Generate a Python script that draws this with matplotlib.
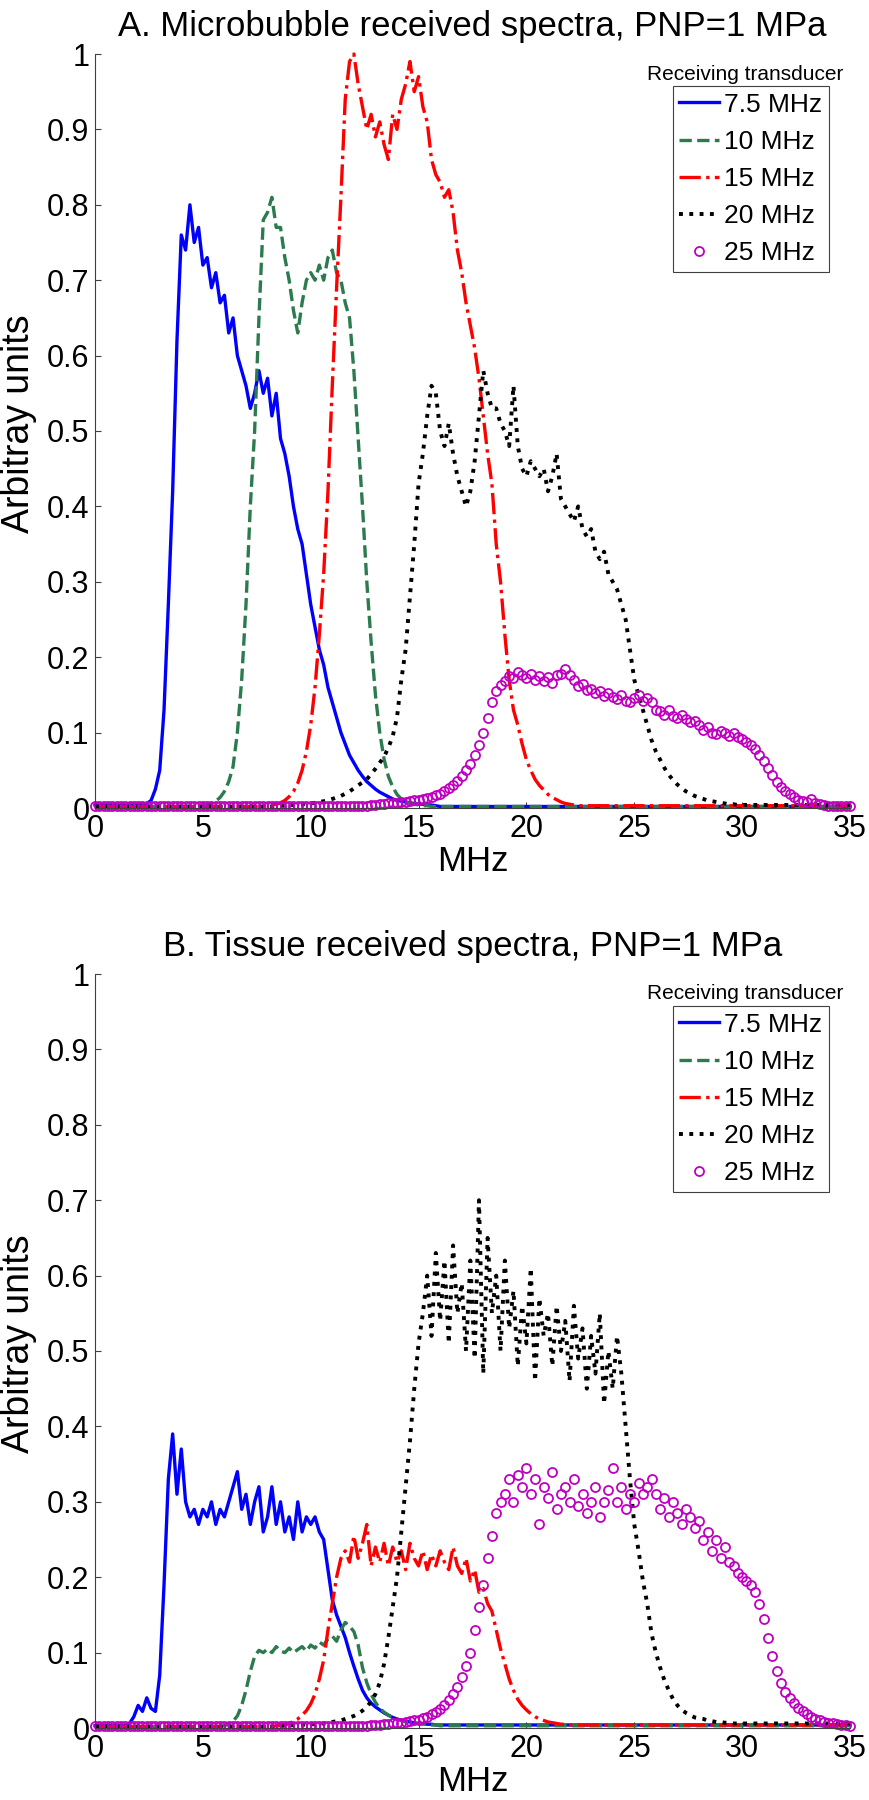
import numpy as np
import matplotlib
matplotlib.use('Agg')
import matplotlib.pyplot as plt

plt.rcParams['font.family'] = ['Liberation Sans', 'DejaVu Sans']

# frequency bins in MHz (0.2 MHz apart, 0 .. 35)
freq = np.round(np.arange(176) * 0.2, 1)

labels = ['7.5 MHz', '10 MHz', '15 MHz', '20 MHz', '25 MHz']

# ---- A. microbubble received spectra (one value per 0.2 MHz bin) ----
a_75 = ([0.004] * 10 +
        [0.004, 0.005, 0.006, 0.010, 0.025, 0.05, 0.13, 0.27, 0.42, 0.62] +
        [0.76, 0.74, 0.80, 0.75, 0.77, 0.72, 0.73, 0.69, 0.71, 0.67] +
        [0.68, 0.63, 0.65, 0.60, 0.58, 0.56, 0.53, 0.55, 0.58, 0.55] +
        [0.57, 0.52, 0.55, 0.49, 0.47, 0.44, 0.40, 0.37, 0.35, 0.31] +
        [0.27, 0.24, 0.21, 0.19, 0.16, 0.14, 0.12, 0.10, 0.085, 0.07] +
        [0.06, 0.05, 0.042, 0.035, 0.03, 0.025, 0.021, 0.018, 0.015, 0.012] +
        [0.010, 0.009, 0.008, 0.007, 0.006, 0.005, 0.005, 0.004, 0.004, 0.003] +
        [0.002] * 96)
a_10 = ([0.002] * 25 +
        [0.003, 0.004, 0.006, 0.009, 0.014] +
        [0.022, 0.035, 0.055, 0.10, 0.17, 0.27, 0.40, 0.50, 0.65, 0.78] +
        [0.79, 0.81, 0.77, 0.77, 0.73, 0.70, 0.66, 0.63, 0.67, 0.70] +
        [0.71, 0.70, 0.72, 0.70, 0.73, 0.74, 0.71, 0.70, 0.67, 0.65] +
        [0.58, 0.49, 0.40, 0.30, 0.22, 0.15, 0.10, 0.065, 0.042, 0.028] +
        [0.018, 0.012, 0.008, 0.006, 0.005, 0.004, 0.003, 0.003, 0.002, 0.002] +
        [0.002] * 96)
a_15 = ([0.002] * 40 +
        [0.003, 0.004, 0.005, 0.007, 0.010, 0.015, 0.022, 0.033, 0.05, 0.075] +
        [0.11, 0.16, 0.23, 0.31, 0.42, 0.56, 0.69, 0.81, 0.94, 0.99] +
        [1.0, 0.96, 0.93, 0.90, 0.92, 0.89, 0.91, 0.88, 0.86, 0.92] +
        [0.90, 0.94, 0.96, 0.99, 0.95, 0.97, 0.93, 0.91, 0.86, 0.84] +
        [0.83, 0.81, 0.82, 0.79, 0.74, 0.71, 0.67, 0.64, 0.61, 0.57] +
        [0.52, 0.47, 0.43, 0.35, 0.30, 0.23, 0.17, 0.13, 0.11, 0.085] +
        [0.064, 0.05, 0.038, 0.03, 0.024, 0.018, 0.014, 0.011, 0.008, 0.006] +
        [0.005, 0.004] + [0.003] * 64)
a_20 = ([0.002] * 40 +
        [0.002, 0.002, 0.003, 0.003, 0.003, 0.004, 0.004, 0.004, 0.005, 0.005] +
        [0.006, 0.007, 0.008, 0.009, 0.010, 0.012, 0.014, 0.016, 0.019, 0.022] +
        [0.026, 0.03, 0.034, 0.038, 0.045, 0.052, 0.06, 0.068, 0.08, 0.095] +
        [0.12, 0.17, 0.21, 0.28, 0.35, 0.43, 0.47, 0.52, 0.56, 0.55] +
        [0.50, 0.48, 0.51, 0.47, 0.44, 0.42, 0.40, 0.42, 0.46, 0.52] +
        [0.58, 0.55, 0.53, 0.53, 0.51, 0.50, 0.48, 0.56, 0.48, 0.45] +
        [0.44, 0.46, 0.45, 0.44, 0.45, 0.42, 0.44, 0.47, 0.41, 0.40] +
        [0.39, 0.38, 0.40, 0.37, 0.36, 0.37, 0.34, 0.33, 0.34, 0.31] +
        [0.30, 0.29, 0.27, 0.25, 0.21, 0.17, 0.15, 0.13, 0.11, 0.09] +
        [0.075, 0.064, 0.053, 0.044, 0.037, 0.031, 0.026, 0.022, 0.019, 0.016] +
        [0.014, 0.012, 0.010, 0.009, 0.008, 0.007, 0.006, 0.005, 0.005, 0.004] +
        [0.004] * 26)
a_25 = ([0.002] * 60 +
        [0.002, 0.003, 0.003, 0.003, 0.004, 0.004, 0.005, 0.005, 0.006, 0.006] +
        [0.007, 0.008, 0.008, 0.009, 0.010, 0.011, 0.012, 0.013, 0.015, 0.017] +
        [0.019, 0.022, 0.026, 0.03, 0.036, 0.042, 0.05, 0.059, 0.07, 0.083] +
        [0.10, 0.12, 0.14, 0.155, 0.163, 0.168, 0.175, 0.172, 0.18, 0.176] +
        [0.172, 0.178, 0.17, 0.175, 0.168, 0.174, 0.166, 0.176, 0.178, 0.184] +
        [0.176, 0.17, 0.162, 0.165, 0.156, 0.158, 0.152, 0.155, 0.148, 0.152] +
        [0.147, 0.145, 0.150, 0.142, 0.14, 0.146, 0.150, 0.142, 0.146, 0.14] +
        [0.13, 0.128, 0.124, 0.13, 0.122, 0.12, 0.124, 0.118, 0.114, 0.116] +
        [0.11, 0.104, 0.108, 0.10, 0.098, 0.102, 0.10, 0.096, 0.10, 0.094] +
        [0.092, 0.088, 0.084, 0.078, 0.07, 0.062, 0.053, 0.044, 0.035, 0.028] +
        [0.022, 0.018, 0.014, 0.011, 0.009, 0.008, 0.012, 0.006, 0.005, 0.004] +
        [0.003, 0.003, 0.002, 0.002, 0.002, 0.002])

# ---- B. tissue received spectra ----
b_75 = ([0.003] * 8 +
        [0.006, 0.015] +
        [0.03, 0.022, 0.04, 0.026, 0.022, 0.07, 0.19, 0.33, 0.39, 0.31] +
        [0.37, 0.30, 0.28, 0.29, 0.27, 0.29, 0.28, 0.30, 0.27, 0.29] +
        [0.28, 0.30, 0.32, 0.34, 0.29, 0.31, 0.27, 0.30, 0.32, 0.26] +
        [0.28, 0.32, 0.27, 0.30, 0.26, 0.28, 0.25, 0.30, 0.26, 0.28] +
        [0.27, 0.28, 0.26, 0.25, 0.21, 0.17, 0.15, 0.135, 0.12, 0.10] +
        [0.082, 0.065, 0.05, 0.04, 0.033, 0.028, 0.024, 0.02, 0.017, 0.014] +
        [0.012, 0.01, 0.009, 0.008, 0.007, 0.006, 0.006, 0.005, 0.005, 0.004] +
        [0.004] * 96)
b_10 = ([0.002] * 30 +
        [0.003, 0.005, 0.009, 0.016, 0.03, 0.05, 0.075, 0.095, 0.103, 0.10] +
        [0.105, 0.10, 0.108, 0.102, 0.10, 0.106, 0.10, 0.104, 0.108, 0.102] +
        [0.11, 0.106, 0.114, 0.11, 0.118, 0.122, 0.115, 0.13, 0.14, 0.135] +
        [0.128, 0.11, 0.08, 0.06, 0.045, 0.034, 0.026, 0.021, 0.017, 0.014] +
        [0.012, 0.01, 0.008, 0.007, 0.006, 0.006, 0.005, 0.005, 0.004, 0.004] +
        [0.003] * 96)
b_15 = ([0.002] * 40 +
        [0.002, 0.002, 0.003, 0.003, 0.004, 0.006, 0.009, 0.012, 0.017, 0.023] +
        [0.032, 0.045, 0.065, 0.09, 0.13, 0.165, 0.20, 0.225, 0.235, 0.22] +
        [0.255, 0.225, 0.245, 0.27, 0.215, 0.24, 0.22, 0.245, 0.215, 0.24] +
        [0.22, 0.235, 0.21, 0.245, 0.225, 0.215, 0.235, 0.21, 0.23, 0.215] +
        [0.235, 0.22, 0.21, 0.24, 0.215, 0.205, 0.225, 0.195, 0.21, 0.18] +
        [0.185, 0.165, 0.155, 0.13, 0.105, 0.085, 0.065, 0.05, 0.038, 0.03] +
        [0.024, 0.019, 0.015, 0.012, 0.01, 0.008, 0.007, 0.006, 0.005, 0.005] +
        [0.004] * 66)
b_20 = ([0.002] * 40 +
        [0.002, 0.002, 0.003, 0.003, 0.003, 0.003, 0.004, 0.004, 0.004, 0.005] +
        [0.005, 0.005, 0.006, 0.006, 0.007, 0.008, 0.009, 0.01, 0.012, 0.014] +
        [0.016, 0.019, 0.023, 0.028, 0.035, 0.045, 0.06, 0.085, 0.12, 0.16] +
        [0.20, 0.26, 0.32, 0.38, 0.45, 0.51, 0.55, 0.60, 0.52, 0.63] +
        [0.54, 0.62, 0.51, 0.64, 0.55, 0.59, 0.50, 0.62, 0.49, 0.70] +
        [0.47, 0.65, 0.55, 0.60, 0.50, 0.62, 0.53, 0.58, 0.48, 0.56] +
        [0.51, 0.61, 0.46, 0.57, 0.52, 0.55, 0.48, 0.56, 0.50, 0.54] +
        [0.46, 0.56, 0.49, 0.53, 0.45, 0.52, 0.47, 0.55, 0.43, 0.50] +
        [0.45, 0.52, 0.47, 0.40, 0.33, 0.27, 0.235, 0.195, 0.165, 0.125] +
        [0.10, 0.08, 0.063, 0.05, 0.038, 0.03, 0.024, 0.02, 0.017, 0.014] +
        [0.013, 0.012, 0.01, 0.009, 0.008, 0.008, 0.007, 0.007, 0.006, 0.006] +
        [0.006] * 26)
b_25 = ([0.002] * 60 +
        [0.002, 0.003, 0.003, 0.003, 0.004, 0.004, 0.004, 0.005, 0.005, 0.006] +
        [0.006, 0.007, 0.008, 0.009, 0.01, 0.011, 0.013, 0.015, 0.018, 0.021] +
        [0.025, 0.03, 0.037, 0.045, 0.055, 0.068, 0.082, 0.10, 0.13, 0.16] +
        [0.19, 0.225, 0.255, 0.285, 0.30, 0.31, 0.33, 0.30, 0.335, 0.32] +
        [0.345, 0.31, 0.33, 0.27, 0.32, 0.305, 0.34, 0.29, 0.31, 0.32] +
        [0.30, 0.33, 0.295, 0.31, 0.285, 0.30, 0.32, 0.28, 0.30, 0.315] +
        [0.345, 0.30, 0.32, 0.29, 0.31, 0.30, 0.325, 0.31, 0.32, 0.33] +
        [0.31, 0.29, 0.305, 0.28, 0.30, 0.285, 0.27, 0.29, 0.28, 0.265] +
        [0.275, 0.25, 0.26, 0.235, 0.25, 0.225, 0.24, 0.22, 0.215, 0.205] +
        [0.20, 0.195, 0.19, 0.18, 0.165, 0.145, 0.12, 0.095, 0.075, 0.06] +
        [0.048, 0.04, 0.033, 0.027, 0.022, 0.018, 0.015, 0.012, 0.01, 0.008] +
        [0.007, 0.006, 0.005, 0.004, 0.004, 0.003])

green = '#2b7b4f'
magenta = '#c000c0'
styles = [dict(color='blue', ls='-', lw=2.4),
          dict(color=green, ls='--', lw=2.4),
          dict(color='red', ls='-.', lw=2.4),
          dict(color='black', ls=':', lw=2.8),
          dict(color=magenta, ls='none', marker='o', mfc='none', ms=6.5, mew=1.3)]

W, H = 869, 1800
fig = plt.figure(figsize=(W / 100, H / 100), dpi=100)


def panel(top_px, series, title):
    ax = fig.add_axes([95 / W, 1 - (top_px + 754) / H, 755 / W, 754 / H])
    for s, lab, st in zip(series, labels, styles):
        ax.plot(freq, s, label=lab, clip_on=False, **st)
    ax.set_xlim(0, 35)
    ax.set_ylim(0, 1)
    ax.set_xticks(range(0, 36, 5))
    ax.set_yticks(np.arange(0, 1.01, 0.1))
    ax.set_yticklabels(['0', '0.1', '0.2', '0.3', '0.4', '0.5', '0.6', '0.7', '0.8', '0.9', '1'])
    ax.tick_params(direction='in', length=4, width=0.8, color='#404040', labelsize=22, pad=4)
    for side in ['top', 'right']:
        ax.spines[side].set_visible(False)
    for side in ['left', 'bottom']:
        ax.spines[side].set_color('#404040')
        ax.spines[side].set_linewidth(0.8)
    ax.set_title(title, fontsize=25, pad=13)
    ax.set_xlabel('MHz', fontsize=25, labelpad=1)
    ax.set_ylabel('Arbitray units', fontsize=27)
    ax.yaxis.set_label_coords(-0.077, 0.51)
    leg = ax.legend(loc='upper right', bbox_to_anchor=(829 / W, 1 - (top_px + 32) / H),
                    bbox_transform=fig.transFigure, fontsize=19, fancybox=False,
                    edgecolor='#404040', framealpha=1, borderpad=0.25, labelspacing=0.5,
                    handlelength=1.5, handletextpad=0.2, borderaxespad=0)
    leg.get_frame().set_linewidth(0.8)
    fig.text(745 / W, 1 - (top_px + 20) / H, 'Receiving transducer', fontsize=15,
             ha='center', va='center')
    return ax


panel(54, [a_75, a_10, a_15, a_20, a_25], 'A. Microbubble received spectra, PNP=1 MPa')
panel(974, [b_75, b_10, b_15, b_20, b_25], 'B. Tissue received spectra, PNP=1 MPa')

fig.savefig('out.png', dpi=100)
